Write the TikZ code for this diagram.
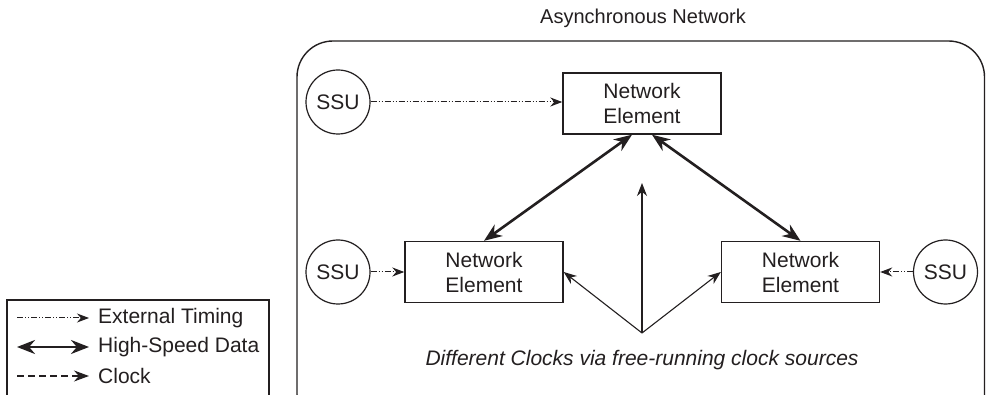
\documentclass[tikz,border=0pt]{standalone}
\usepackage{fontspec}
\setmainfont{Liberation Sans}
\usetikzlibrary{arrows.meta}
\definecolor{ink}{HTML}{231F20}
\begin{document}
\begin{tikzpicture}[x=1pt,y=-1pt,
  font=\fontsize{21}{25}\selectfont,
  every node/.style={text=ink},
  nebox/.style={draw=ink, line width=1.4pt, minimum width=158pt, minimum height=61pt, align=center, inner sep=0pt},
  ssu/.style={draw=ink, circle, line width=1.2pt, minimum size=64pt, inner sep=0pt},
  ext/.style={draw=ink, line width=1pt, dash pattern=on 6pt off 2pt on 1pt off 2pt on 1pt off 2pt, -{Stealth[length=12pt,width=9pt]}},
  data/.style={draw=ink, line width=2.6pt, {Stealth[length=18pt,width=14pt]}-{Stealth[length=18pt,width=14pt]}},
  clk/.style={draw=ink, line width=1.1pt, -{Stealth[length=13pt,width=10pt]}},
  clkleg/.style={draw=ink, line width=1.1pt, dash pattern=on 7pt off 4pt, -{Stealth[length=15pt,width=11pt]}},
  legtext/.style={anchor=west, inner sep=0pt}
]
\useasboundingbox (0,0) rectangle (986,395);
\clip (0,0) rectangle (986,395);
\fill[white] (0,0) rectangle (986,395);

% frame and title
\draw[ink, line width=1.4pt, rounded corners=36pt] (297,41) rectangle (984.5,430);
\node[font=\fontsize{20}{24}\selectfont] (title) at (643,18) {Asynchronous Network};

% network elements
\node[nebox] (top) at (642,103.5) {Network\\Element};
\node[nebox] (left) at (484,272) {Network\\Element};
\node[nebox] (right) at (800.5,272) {Network\\Element};

% SSUs
\node[ssu] (ssuT) at (338,102) {SSU};
\node[ssu] (ssuL) at (338,272) {SSU};
\node[ssu] (ssuR) at (945.5,272) {SSU};

% external timing
\draw[ext] (ssuT.east) -- (ssuT.east -| top.west);
\draw[ext] (ssuL) -- (left);
\draw[ext] (ssuR) -- (right);

% high-speed data
\draw[data] ([xshift=-10pt]top.south) -- (left.north);
\draw[data] ([xshift=10pt]top.south) -- (right.north);

% clocks
\coordinate (apex) at (642,333);
\coordinate (vtip) at (642,183);
\draw[clk] (apex) -- (left.east);
\draw[clk] (apex) -- (right.west);
\draw[clk] (apex) -- (vtip);
\node[font=\fontsize{21}{25}\selectfont\itshape] (cap) at (642,360) {Different Clocks via free-running clock sources};

% legend
\draw[ink, line width=1.4pt] (7,430) -- (7,300) -- (269,300) -- (269,430);
\coordinate (l1a) at (17,318); \coordinate (l1b) at (89,318);
\coordinate (l2a) at (17,347); \coordinate (l2b) at (89,347);
\coordinate (l3a) at (17,376); \coordinate (l3b) at (89,376);
\draw[ext] (l1a) -- (l1b);
\draw[data] (l2a) -- (l2b);
\draw[clkleg] (l3a) -- (l3b);
\node[legtext] (t1) at (98,318) {External Timing};
\node[legtext] (t2) at (98,347) {High-Speed Data};
\node[legtext] (t3) at (98,376) {Clock};
\end{tikzpicture}
\end{document}
